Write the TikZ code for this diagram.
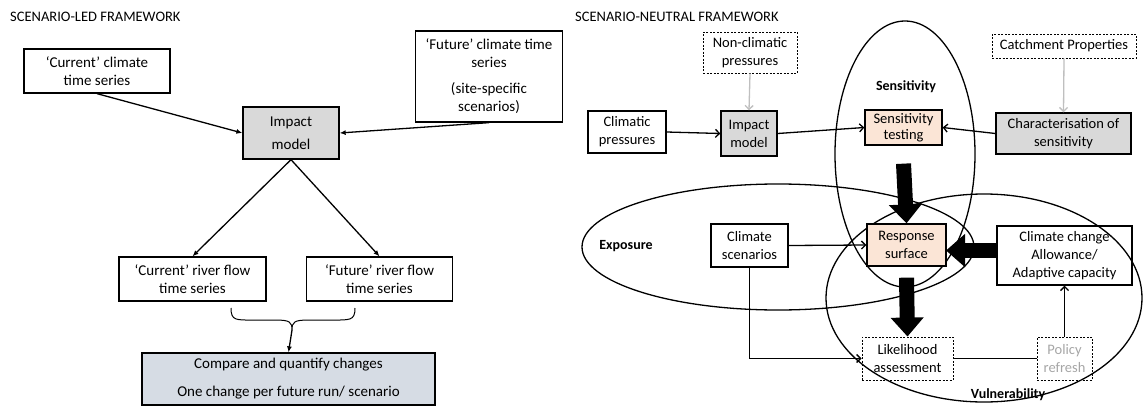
\documentclass[tikz,border=0pt]{standalone}
\usepackage{fontspec}
\setmainfont{Carlito}
\usetikzlibrary{arrows.meta}
\definecolor{boxgray}{HTML}{D9D9D9}
\definecolor{peach}{HTML}{FBE5D6}
\definecolor{cmpfill}{HTML}{D6DCE4}
\definecolor{lightarr}{HTML}{BFBFBF}
\definecolor{policytext}{HTML}{A6A6A6}
\tikzset{
  lbox/.style={draw, line width=1.3pt, align=center, inner sep=0pt, font=\fontsize{15}{18}\selectfont},
  rbox/.style={draw, line width=1.3pt, align=center, inner sep=0pt, font=\fontsize{14.5}{18}\selectfont},
  dbox/.style={rbox, dash pattern=on 2pt off 1.5pt, line width=0.9pt},
  ttl/.style={anchor=west, inner sep=0pt, font=\fontsize{14.5}{16}\selectfont},
  lbl/.style={inner sep=0pt, font=\fontsize{14}{16}\selectfont\bfseries},
  arrL/.style={line width=1.3pt, -{Latex[length=6pt,width=5pt]}},
  arrR/.style={line width=1.3pt, -{Straight Barb[length=4pt,width=8pt]}},
  arrG/.style={line width=1.3pt, draw=lightarr, -{Straight Barb[length=4pt,width=8pt]}},
  bigarr/.style={line width=15pt, -{Triangle[width=32pt,length=19pt]}},
  ring/.style={line width=1.3pt}
}
\begin{document}
\begin{tikzpicture}[x=1pt,y=-1pt]
\useasboundingbox (0,0) rectangle (1143,407);
% ---------- left: scenario-led ----------
\node[ttl] (t1) at (10,17) {SCENARIO-LED FRAMEWORK};
\node[lbox, minimum width=146pt, minimum height=44pt] (cur) at (97,71) {‘Current’ climate\\time series};
\node[lbox, fill=boxgray, minimum width=96pt, minimum height=52pt] (imp1) at (291,133) {Impact\\[5pt]model};
\node[lbox, minimum width=147pt, minimum height=91pt] (fut) at (489,76.5) {‘Future’ climate time\\series\\[8pt](site-specific\\scenarios)};
\node[lbox, minimum width=147pt, minimum height=44pt] (crf) at (192.5,279) {‘Current’ river flow\\time series};
\node[lbox, minimum width=146pt, minimum height=44pt] (frf) at (379.5,279) {‘Future’ river flow\\time series};
\node[lbox, fill=cmpfill, minimum width=293pt, minimum height=52pt] (cmp) at (288.5,379) {Compare and quantify changes\\[10pt]One change per future run/ scenario};
\draw[arrL] (cur.south) -- (imp1.west);
\draw[arrL] (fut.south) -- (imp1.east);
\draw[arrL] (imp1.south) -- (crf.north);
\draw[arrL] (imp1.south) -- (frf.north);
\coordinate (brc) at (292,330);
\draw[line width=1pt] (231,308) .. controls (231,321) and (236,320) .. (255,320) -- (275,320)
  .. controls (290,320) and (292,322) .. (brc)
  .. controls (292,322) and (294,320) .. (309,320) -- (330,320)
  .. controls (350,320) and (355,321) .. (355,308);
\draw[arrL] (brc) -- (cmp.north);
% ---------- right: scenario-neutral ----------
\node[ttl] (t2) at (575,17) {SCENARIO-NEUTRAL FRAMEWORK};
\draw[ring] (905,154) ellipse [x radius=70pt, y radius=133pt];
\draw[ring] (778,247) ellipse [x radius=196pt, y radius=63pt];
\draw[ring] (984,298) ellipse [x radius=158pt, y radius=104pt];
\node[lbl] (lsens) at (906,87) {Sensitivity};
\node[lbl] (lexp) at (626,246) {Exposure};
\node[lbl] (lvul) at (1008,395) {Vulnerability};
\node[dbox, minimum width=94pt, minimum height=41pt] (ncp) at (750,52.5) {Non-climatic\\pressures};
\node[rbox, minimum width=78pt, minimum height=42pt] (clp) at (627,132) {Climatic\\pressures};
\node[rbox, fill=boxgray, minimum width=56pt, minimum height=45pt] (imp2) at (749,133.5) {Impact\\model};
\node[rbox, fill=peach, minimum width=77pt, minimum height=35pt, font=\fontsize{14.5}{16}\selectfont] (st) at (903.5,127.5) {Sensitivity\\testing};
\node[rbox, fill=boxgray, minimum width=135pt, minimum height=41pt] (cos) at (1063.5,133.5) {Characterisation of\\sensitivity};
\node[dbox, minimum width=144pt, minimum height=24pt] (cat) at (1064,46) {Catchment Properties};
\node[rbox, fill=peach, minimum width=79pt, minimum height=42pt] (rs) at (906.5,245) {Response\\surface};
\node[rbox, minimum width=135pt, minimum height=59pt] (ccb) at (1064.5,255.5) {Climate change\\Allowance/\\Adaptive capacity};
\node[rbox, minimum width=77pt, minimum height=43pt] (cs) at (749.5,245.5) {Climate\\scenarios};
\node[dbox, minimum width=91pt, minimum height=43pt] (la) at (907.5,358.5) {Likelihood\\assessment};
\node[dbox, text=policytext, minimum width=55pt, minimum height=43pt] (pr) at (1064.5,358.5) {Policy\\refresh};
\draw[arrR] (clp.east) -- (imp2.west);
\draw[arrG] (ncp.south) -- (imp2.north);
\draw[arrR] (imp2.east) -- (st.west);
\draw[arrR] (cos.west) -- (st.east);
\draw[arrG] (cat.south) -- (cos.north);
\draw[bigarr] ([yshift=-18pt]st.south) -- (rs.north);
\coordinate (ccbin) at (997,250.5);
\coordinate (rsin) at (946,250.5);
\draw[bigarr] (ccbin) -- (rsin);
\draw[bigarr] ([yshift=-11pt]rs.south) -- (la.north);
\draw[arrR] (cs.east) -- (rs.west);
\draw[arrR] (cs.south) |- (la.west);
\draw[line width=1.3pt] (la.east) -- (pr.west);
\draw[arrR] (pr.north) -- (ccb.south);
\end{tikzpicture}
\end{document}
